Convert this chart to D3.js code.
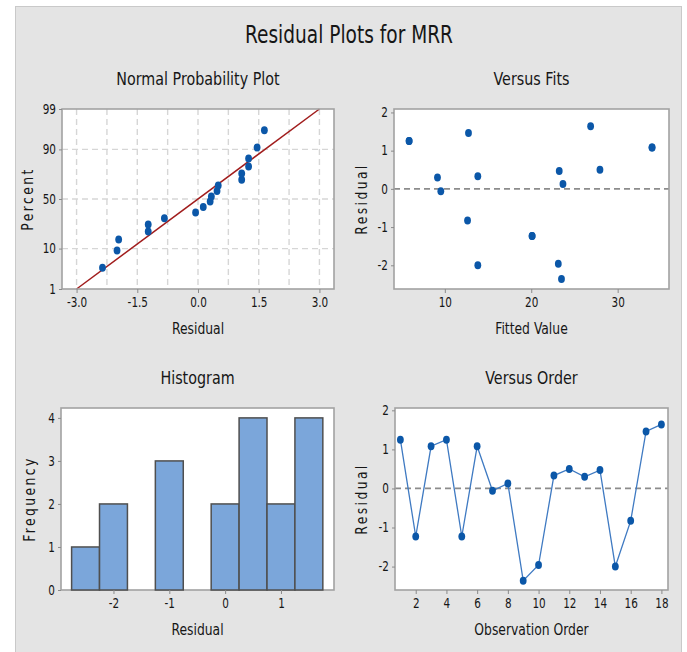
<!DOCTYPE html>
<html>
<head>
<meta charset="utf-8">
<script src="https://cdn.jsdelivr.net/npm/d3@7"></script>
<style>
  html, body { margin: 0; padding: 0; background: #ffffff; }
  svg { display: block; }
  text { font-family: "DejaVu Sans Condensed", "DejaVu Sans", sans-serif; fill: #161616; }
</style>
</head>
<body>
<svg id="chart" width="687" height="652"></svg>
<script>
// ---------------- DATA ----------------
const observation = [1,2,3,4,5,6,7,8,9,10,11,12,13,14,15,16,17,18];
const residuals   = [1.25,-1.23,1.08,1.25,-1.23,1.08,-0.06,0.13,-2.36,-1.96,0.33,0.50,0.30,0.47,-2.00,-0.83,1.46,1.64];
const fittedValues= [5.87,20.10,33.98,5.87,20.10,33.98,9.54,23.67,23.50,23.13,13.82,27.95,9.15,23.24,13.82,12.63,12.74,26.87];
// normal probability plot: percent position of each sorted residual
const probPercent = [3.8,9.2,14.7,20.1,25.5,31.0,36.4,41.8,47.3,52.7,58.2,63.6,69.0,74.5,79.9,85.3,90.8,96.2];
// fitted normal line (residual, percent)
const lineResidual = [-3.0, 3.0];
const linePercent  = [1, 99];
// histogram
const binCenters = [-2.5,-2,-1.5,-1,-0.5,0,0.5,1,1.5];
const binCounts  = [1,2,0,3,0,2,4,2,4];
const binWidth = 0.5;
// ticks
const probXTicks = [-3.0,-1.5,0.0,1.5,3.0];
const probXGrid  = [-3,-2.25,-1.5,-0.75,0,0.75,1.5,2.25,3];
const probYTicks = [1,10,50,90,99];
const probYGrid  = [10,50,90];
const fitsXTicks = [10,20,30];
const residTicks = [-2,-1,0,1,2];
const histXTicks = [-2,-1,0,1];
const histYTicks = [0,1,2,3,4];
const orderXTicks = [2,4,6,8,10,12,14,16,18];

// ---------------- HELPERS ----------------
function probit(p) {
  const a=[-3.969683028665376e+01,2.209460984245205e+02,-2.759285104469687e+02,1.383577518672690e+02,-3.066479806614716e+01,2.506628277459239e+00];
  const b=[-5.447609879822406e+01,1.615858368580409e+02,-1.556989798598866e+02,6.680131188771972e+01,-1.328068155288572e+01];
  const c=[-7.784894002430293e-03,-3.223964580411365e-01,-2.400758277161838e+00,-2.549732539343734e+00,4.374664141464968e+00,2.938163982698783e+00];
  const d=[7.784695709041462e-03,3.224671290700398e-01,2.445134137142996e+00,3.754408661907416e+00];
  const pl=0.02425, ph=1-pl;
  let q,r;
  if (p<pl){ q=Math.sqrt(-2*Math.log(p)); return (((((c[0]*q+c[1])*q+c[2])*q+c[3])*q+c[4])*q+c[5])/((((d[0]*q+d[1])*q+d[2])*q+d[3])*q+1); }
  if (p<=ph){ q=p-0.5; r=q*q; return (((((a[0]*r+a[1])*r+a[2])*r+a[3])*r+a[4])*r+a[5])*q/(((((b[0]*r+b[1])*r+b[2])*r+b[3])*r+b[4])*r+1); }
  q=Math.sqrt(-2*Math.log(1-p)); return -(((((c[0]*q+c[1])*q+c[2])*q+c[3])*q+c[4])*q+c[5])/((((d[0]*q+d[1])*q+d[2])*q+d[3])*q+1);
}
const SQ = 0.86;  // horizontal squeeze to mimic the condensed UI font
const hy = s => String(s).replace("\u2212","-");
const fmt1 = d => hy(d3.format(".1f")(d));
const fmt0 = d => hy(d3.format("d")(d));

const svg = d3.select("#chart");
const BLUE = "#0b57a8";
const FRAME = "#a2a2a2";

function label(parent, x, y, str, size, rotate, spacing) {
  const t = parent.append("text")
    .attr("transform", `translate(${x},${y})` + (rotate ? " rotate(-90)" : "") + ` scale(${SQ},1)`)
    .attr("text-anchor","middle").attr("font-size",size).text(str);
  if (spacing) t.attr("letter-spacing", spacing);
  return t;
}

svg.append("rect").attr("x",15.5).attr("y",6.5).attr("width",666).attr("height",660)
  .attr("fill","#e4e4e4").attr("stroke","#c9c9c9");

label(svg, 349, 43, "Residual Plots for MRR", 24);

function panel(box, title, xlab, ylab, ylabX) {
  const g = svg.append("g");
  g.append("rect").attr("x",box.x0).attr("y",box.y0).attr("width",box.x1-box.x0).attr("height",box.y1-box.y0)
    .attr("fill","#ffffff");
  label(g, (box.x0+box.x1)/2, box.y0-24, title, 18.5);
  label(g, (box.x0+box.x1)/2, box.y1+45, xlab, 16);
  label(g, ylabX, (box.y0+box.y1)/2, ylab, 16, true, "2.8px");
  return g;
}
function frame(g, box) {
  g.append("rect").attr("x",box.x0).attr("y",box.y0).attr("width",box.x1-box.x0).attr("height",box.y1-box.y0)
    .attr("fill","none").attr("stroke",FRAME).attr("stroke-width",1.6);
}
function axes(g, box, xs, ys, xt, yt, xfmt, yfmt) {
  const ax = g.append("g").attr("transform",`translate(0,${box.y1})`)
    .call(d3.axisBottom(xs).tickValues(xt).tickSize(4).tickPadding(4).tickFormat(xfmt));
  const ay = g.append("g").attr("transform",`translate(${box.x0},0)`)
    .call(d3.axisLeft(ys).tickValues(yt).tickSize(3).tickPadding(3).tickFormat(yfmt));
  [ax,ay].forEach(a=>{
    a.select(".domain").remove();
    a.selectAll(".tick line").attr("stroke","#8a8a8a");
    a.selectAll(".tick text").each(function(){
      const t = d3.select(this);
      const x = +t.attr("x") || 0, y = +t.attr("y") || 0;
      t.attr("x",0).attr("y",0).attr("transform",`translate(${x},${y}) scale(${SQ},1)`);
    }).attr("font-size",13.5).attr("fill","#161616")
      .style("font-family",'"DejaVu Sans Condensed","DejaVu Sans",sans-serif');
  });
}

// ---------------- PANEL 1: Normal probability plot ----------------
{
  const box = {x0:62,x1:334,y0:109,y1:289};
  const g = panel(box,"Normal Probability Plot","Residual","Percent",33);
  const x = d3.scaleLinear().domain([-3.36,3.36]).range([box.x0,box.x1]);
  const zy = d3.scaleLinear().domain([probit(0.01),probit(0.99)]).range([box.y1,box.y0]);
  const y = p => zy(probit(p/100));
  g.selectAll(".gx").data(probXGrid).join("line")
    .attr("x1",d=>x(d)).attr("x2",d=>x(d)).attr("y1",box.y0).attr("y2",box.y1)
    .attr("stroke","#d6d6d6").attr("stroke-width",1.4).attr("stroke-dasharray","6,4");
  g.selectAll(".gy").data(probYGrid).join("line")
    .attr("x1",box.x0).attr("x2",box.x1).attr("y1",d=>y(d)).attr("y2",d=>y(d))
    .attr("stroke","#d6d6d6").attr("stroke-width",1.4).attr("stroke-dasharray","6,4");
  g.append("line").attr("x1",x(lineResidual[0])).attr("y1",y(linePercent[0]))
    .attr("x2",x(lineResidual[1])).attr("y2",y(linePercent[1]))
    .attr("stroke","#a11d1d").attr("stroke-width",1.5);
  const sorted = residuals.slice().sort(d3.ascending);
  g.selectAll(".pt").data(sorted).join("ellipse")
    .attr("cx",d=>x(d)).attr("cy",(d,i)=>y(probPercent[i])).attr("rx",3.4).attr("ry",4)
    .attr("fill",BLUE);
  frame(g,box);
  axes(g,box,x,zy,probXTicks,probYTicks.map(p=>probit(p/100)),fmt1,(d,i)=>probYTicks[i]);
}

// ---------------- PANEL 2: Versus fits ----------------
{
  const box = {x0:394,x1:669,y0:109,y1:289};
  const g = panel(box,"Versus Fits","Fitted Value","Residual",367);
  const x = d3.scaleLinear().domain([4.12,35.94]).range([box.x0,box.x1]);
  const y = d3.scaleLinear().domain([-2.62,2.09]).range([box.y1,box.y0]);
  g.append("line").attr("x1",box.x0).attr("x2",box.x1).attr("y1",y(0)).attr("y2",y(0))
    .attr("stroke","#8c8c8c").attr("stroke-width",1.8).attr("stroke-dasharray","6,4");
  g.selectAll(".pt").data(observation).join("ellipse")
    .attr("cx",(d,i)=>x(fittedValues[i])).attr("cy",(d,i)=>y(residuals[i])).attr("rx",3.4).attr("ry",4)
    .attr("fill",BLUE);
  frame(g,box);
  axes(g,box,x,y,fitsXTicks,residTicks,fmt0,fmt0);
}

// ---------------- PANEL 3: Histogram ----------------
{
  const box = {x0:61,x1:334,y0:408,y1:590};
  const g = panel(box,"Histogram","Residual","Frequency",35);
  const x = d3.scaleLinear().domain([-2.94,1.95]).range([box.x0,box.x1]);
  const y = d3.scaleLinear().domain([0,4.23]).range([box.y1,box.y0]);
  frame(g,box);
  g.selectAll(".bar").data(binCenters).join("rect")
    .attr("x",d=>x(d-binWidth/2)).attr("width",d=>x(d+binWidth/2)-x(d-binWidth/2))
    .attr("y",(d,i)=>y(binCounts[i])).attr("height",(d,i)=>y(0)-y(binCounts[i]))
    .attr("fill","#7ba6da").attr("stroke","#4f4f4f").attr("stroke-width",1.5);
  axes(g,box,x,y,histXTicks,histYTicks,fmt0,fmt0);
}

// ---------------- PANEL 4: Versus order ----------------
{
  const box = {x0:395,x1:668,y0:408,y1:590};
  const g = panel(box,"Versus Order","Observation Order","Residual",367);
  const x = d3.scaleLinear().domain([0.65,18.43]).range([box.x0,box.x1]);
  const y = d3.scaleLinear().domain([-2.6,2.06]).range([box.y1,box.y0]);
  g.append("line").attr("x1",box.x0).attr("x2",box.x1).attr("y1",y(0)).attr("y2",y(0))
    .attr("stroke","#8c8c8c").attr("stroke-width",1.8).attr("stroke-dasharray","6,4");
  const line = d3.line().x((d,i)=>x(observation[i])).y(d=>y(d));
  g.append("path").datum(residuals).attr("d",line).attr("fill","none")
    .attr("stroke","#3f7ac2").attr("stroke-width",1.3);
  g.selectAll(".pt").data(residuals).join("ellipse")
    .attr("cx",(d,i)=>x(observation[i])).attr("cy",d=>y(d)).attr("rx",3.4).attr("ry",4)
    .attr("fill",BLUE);
  frame(g,box);
  axes(g,box,x,y,orderXTicks,residTicks,fmt0,fmt0);
}
</script>
</body>
</html>
